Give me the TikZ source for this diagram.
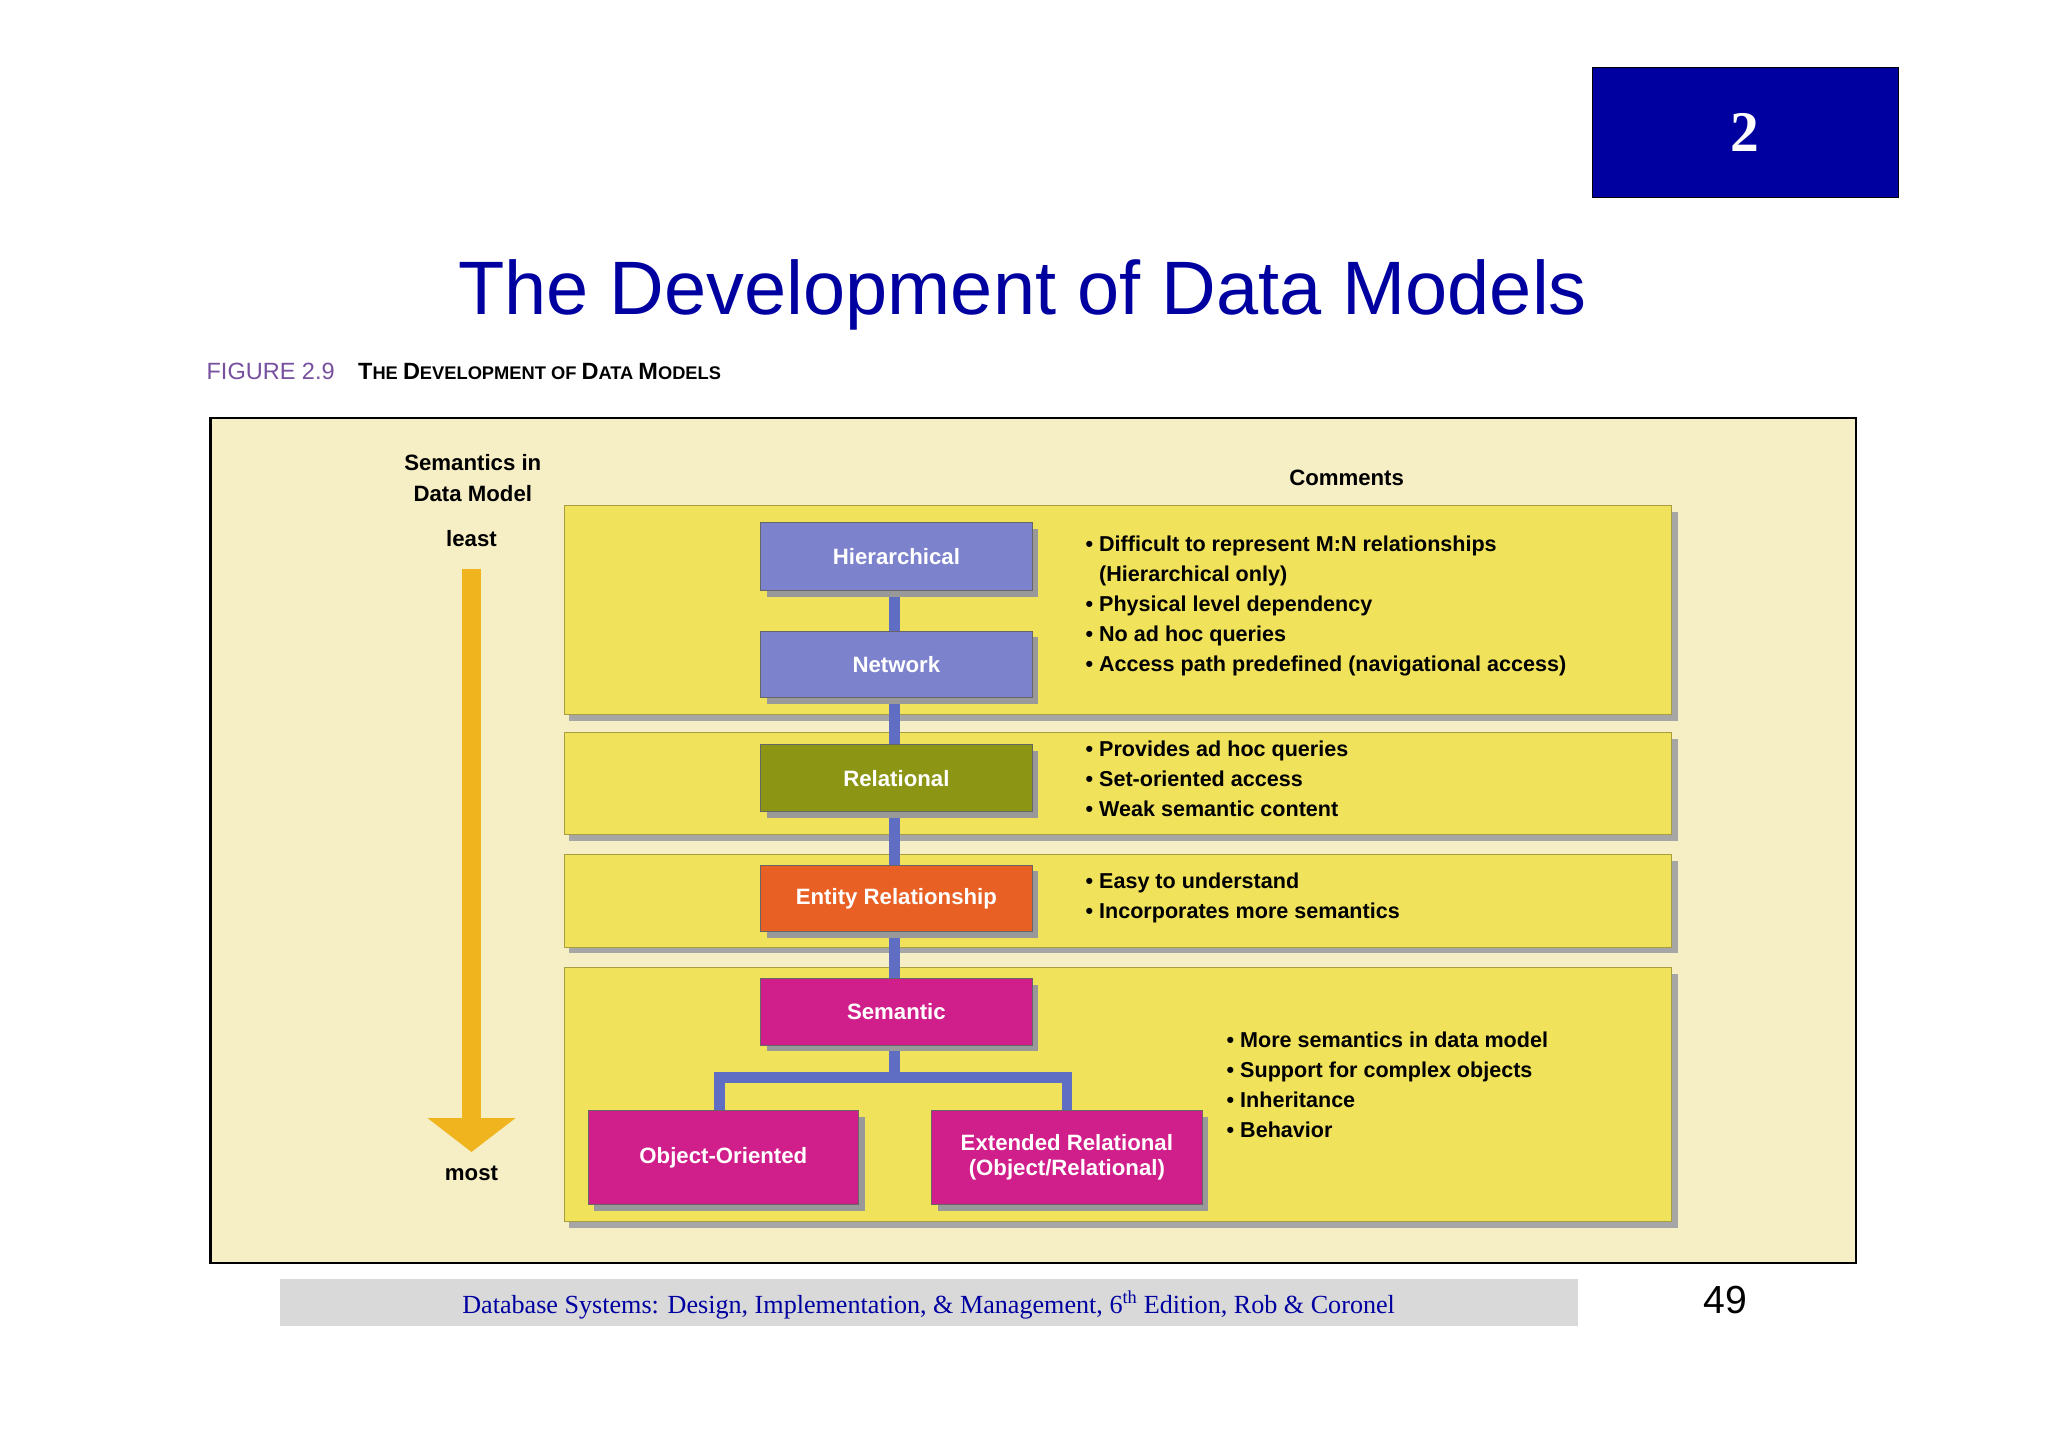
\documentclass[tikz,border=0pt]{standalone}
\usepackage{fontspec}
\setmainfont{Liberation Sans}
\newfontfamily\serifx{Liberation Serif}
\usetikzlibrary{arrows.meta}
\definecolor{navy}{RGB}{0,0,160}
\definecolor{cream}{RGB}{246,238,196}
\definecolor{panel}{RGB}{240,226,90}
\definecolor{hier}{RGB}{125,130,205}
\definecolor{rel}{RGB}{140,150,20}
\definecolor{er}{RGB}{232,96,36}
\definecolor{sem}{RGB}{208,30,138}
\definecolor{conn}{RGB}{95,110,195}
\definecolor{arr}{RGB}{240,180,30}
\definecolor{purp}{RGB}{120,80,160}
\begin{document}
\begin{tikzpicture}[x=1pt,y=-1pt,
  panelbox/.style={fill=panel,draw=panel!70!black,line width=0.6pt},
  mbox/.style={draw=black!60,line width=0.6pt,text=white,font=\fontsize{17}{19}\selectfont\bfseries,align=center,inner sep=0pt},
  bul/.style={anchor=north west,align=left,font=\fontsize{16.5}{23}\selectfont\bfseries,inner sep=0pt},
  lnk/.style={conn,line width=8pt}]
\useasboundingbox (0,0) rectangle (1568,1108);
\fill[white] (0,0) rectangle (1568,1108);
% header
\node[fill=navy,draw=black,minimum width=234,minimum height=100,anchor=north west,text=white,font=\serifx\fontsize{44}{44}\selectfont\bfseries] (num) at (1219,51) {2};
\node[text=navy,font=\fontsize{58}{60}\selectfont] (title) at (783,226) {The Development of Data Models};
\node[anchor=west,inner sep=0pt,font=\fontsize{18}{20}\selectfont] (cap) at (158,284) {\textcolor{purp}{FIGURE 2.9}\quad\textbf{T\fontsize{14}{16}\selectfont HE \fontsize{18}{20}\selectfont D\fontsize{14}{16}\selectfont EVELOPMENT OF \fontsize{18}{20}\selectfont D\fontsize{14}{16}\selectfont ATA \fontsize{18}{20}\selectfont M\fontsize{14}{16}\selectfont ODELS}};
% frame
\node[fill=cream,draw=black,line width=2pt,minimum width=1260,minimum height=647,anchor=north west] (frame) at (160,319) {};
% panels with shadow
\foreach \a/\b in {387/547,561/639,654/725,741/935}{
  \fill[black!35] (436,\a+5) rectangle (1285,\b+5);
  \draw[panelbox] (432,\a) rectangle (1280,\b);}
% labels
\node[align=center,font=\fontsize{17}{23}\selectfont\bfseries] (sem1) at (362,366) {Semantics in\\Data Model};
\node[font=\fontsize{17}{19}\selectfont\bfseries] (least) at (361,412) {least};
\node[font=\fontsize{17}{19}\selectfont\bfseries] (most) at (361,898) {most};
\node[font=\fontsize{17}{19}\selectfont\bfseries] (comm) at (1031,366) {Comments};
\draw[arr,line width=14pt,-{Triangle[width=66pt,length=26pt]}] (least.south) ++(0,14) -- (361,882) coordinate (tip);
% connectors
\coordinate (j) at (685,825);
\draw[lnk] (685,426) -- (j);
\draw[lnk] (551,885) |- (j) -| (817,885);
% boxes
\foreach \n/\c/\x/\y/\w/\h/\t in {h/hier/582/400/208/52/Hierarchical,n/hier/582/483/208/51/Network,r/rel/582/570/208/51/Relational,e/er/582/662/208/51/Entity Relationship,s/sem/582/749/208/51/Semantic,o/sem/450/850/207/72/Object-Oriented}{
  \fill[black!40] (\x+5,\y+5) rectangle ++(\w,\h);
  \node[mbox,fill=\c,minimum width=\w,minimum height=\h,anchor=north west] (\n) at (\x,\y) {\t};}
\fill[black!40] (718,855) rectangle ++(207,72);
\node[mbox,fill=sem,minimum width=207,minimum height=72,anchor=north west] (x) at (713,850) {Extended Relational\\(Object/Relational)};
% bullets
\node[bul] (b1) at (831,410) {• Difficult to represent M:N relationships\\\phantom{• }(Hierarchical only)\\• Physical level dependency\\• No ad hoc queries\\• Access path predefined (navigational access)};
\node[bul] (b2) at (831,567) {• Provides ad hoc queries\\• Set-oriented access\\• Weak semantic content};
\node[bul] (b3) at (831,668) {• Easy to understand\\• Incorporates more semantics};
\node[bul] (b4) at (939,790) {• More semantics in data model\\• Support for complex objects\\• Inheritance\\• Behavior};
% footer
\node[fill=black!15,minimum width=994,minimum height=36,anchor=north west,inner sep=0pt] (foot) at (214,979) {};
\node[text=navy,font=\serifx\fontsize{20}{22}\selectfont] (ft) at (711,999) {Database Systems: Design, Implementation, \& Management, 6\textsuperscript{th} Edition, Rob \& Coronel};
\node[font=\fontsize{30}{32}\selectfont] (pg) at (1321,995) {49};
\end{tikzpicture}
\end{document}
